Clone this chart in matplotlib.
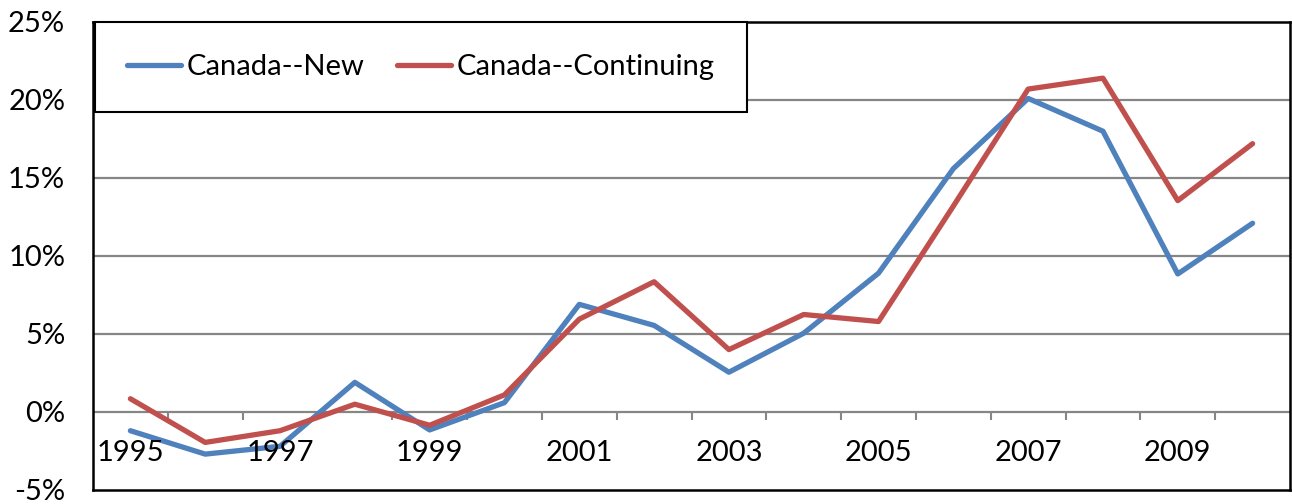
import matplotlib
matplotlib.use("Agg")
import matplotlib.pyplot as plt
from matplotlib.ticker import FuncFormatter

plt.rcParams['font.family'] = ['Lato', 'DejaVu Sans']

years = list(range(1995, 2011))
canada_new = [-1.2, -2.7, -2.2, 1.9, -1.15, 0.6, 6.9, 5.55, 2.55, 5.05, 8.9, 15.6, 20.1, 18.0, 8.85, 12.1]
canada_cont = [0.85, -1.95, -1.2, 0.5, -0.85, 1.1, 5.95, 8.35, 4.0, 6.25, 5.8, 13.2, 20.7, 21.4, 13.55, 17.2]
year_labels = [str(y) for y in years[::2]]

blue = '#4F81BD'
red = '#C0504D'
grid_c = '#868686'

fig = plt.figure(figsize=(12.92, 5.04), dpi=100)
ax = fig.add_axes([93/1292, 1 - 490/504, (1290-93)/1292, (490-22)/504])

x = list(range(len(years)))
ax.plot(x, canada_new, color=blue, lw=3.8, label='Canada--New', solid_capstyle='round', zorder=3)
ax.plot(x, canada_cont, color=red, lw=3.8, label='Canada--Continuing', solid_capstyle='round', zorder=3)

ax.set_xlim(-0.5, len(years) - 0.5)
ax.set_ylim(-5, 25)
ax.set_yticks(range(-5, 30, 5))
ax.yaxis.set_major_formatter(FuncFormatter(lambda v, p: '%d%%' % v))
ax.tick_params(axis='y', length=0, pad=20, labelsize=21)
ax.set_xticks([])

# horizontal grid (the 0% line acts as the category axis)
for v in range(0, 25, 5):
    ax.axhline(v, color=grid_c, lw=1.6, zorder=1)

# small tick marks between categories, hanging from the 0 line
bounds = [i + 0.5 for i in x[:-1]]
ax.plot(bounds, [0] * len(bounds), ls='none', marker=3, ms=6, mew=1.5, color=grid_c, zorder=2)

for i, lab in zip(x[::2], year_labels):
    ax.text(i, -2.65, lab, ha='center', va='center', fontsize=21)

for s in ax.spines.values():
    s.set_color('black')
    s.set_linewidth(1.8)

leg = ax.legend(loc='upper left', bbox_to_anchor=(95/1292, 1 - 22/504),
                bbox_transform=fig.transFigure, ncol=2, fontsize=21,
                frameon=True, fancybox=False, borderaxespad=0,
                handlelength=1.85, handletextpad=0.2, columnspacing=1.1,
                borderpad=1.1)
leg.get_frame().set_edgecolor('black')
leg.get_frame().set_linewidth(1.5)
leg.get_frame().set_alpha(1)
leg.set_zorder(5)

fig.savefig('out.png', dpi=100)
